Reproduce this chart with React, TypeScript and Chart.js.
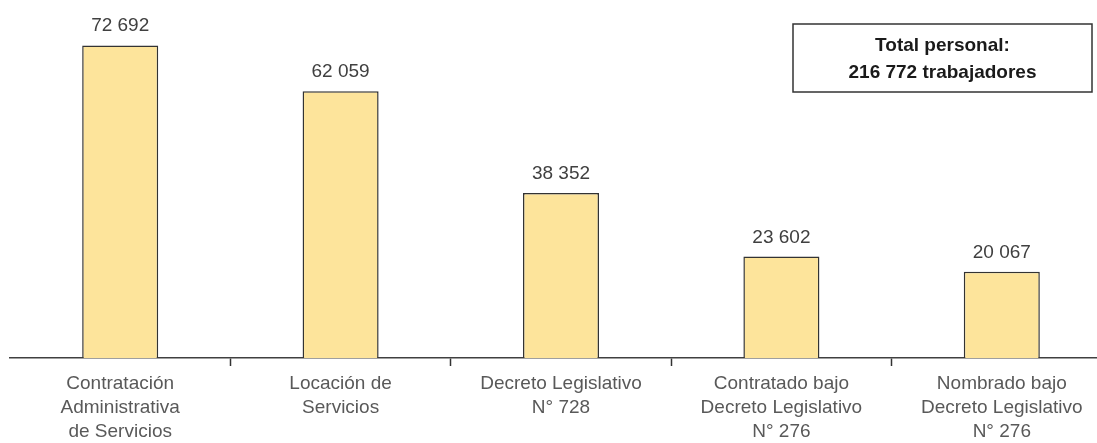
import React, { useEffect, useRef } from "react";
import { Chart, registerables } from "chart.js";

Chart.register(...registerables);

const categories: string[][] = [
  ["Contratación", "Administrativa", "de Servicios"],
  ["Locación de", "Servicios"],
  ["Decreto Legislativo", "N° 728"],
  ["Contratado bajo", "Decreto Legislativo", "N° 276"],
  ["Nombrado bajo", "Decreto Legislativo", "N° 276"],
];
const trabajadores: number[] = [72692, 62059, 38352, 23602, 20067];
const totalLabel = "Total personal:";
const totalValue = 216772;
const totalUnit = "trabajadores";

const fmt = (v: number) => String(v).replace(/\B(?=(\d{3})+(?!\d))/g, " ");

const FONT = "'Liberation Sans', Arial, sans-serif";

const valueLabels = {
  id: "valueLabels",
  afterDatasetsDraw(chart: any) {
    const ctx = chart.ctx;
    const meta = chart.getDatasetMeta(0);
    ctx.save();
    ctx.font = `19px ${FONT}`;
    ctx.fillStyle = "#404040";
    ctx.textAlign = "center";
    ctx.textBaseline = "alphabetic";
    meta.data.forEach((bar: any, i: number) => {
      ctx.fillText(fmt(trabajadores[i]), bar.x, bar.y - 14);
    });
    ctx.restore();
  },
};

const totalBox = {
  id: "totalBox",
  afterDraw(chart: any) {
    const ctx = chart.ctx;
    const x = 793, y = 24, w = 299, h = 68;
    ctx.save();
    ctx.strokeStyle = "#333333";
    ctx.lineWidth = 1.5;
    ctx.strokeRect(x, y, w, h);
    ctx.fillStyle = "#1a1a1a";
    ctx.font = `bold 19px ${FONT}`;
    ctx.textAlign = "center";
    ctx.textBaseline = "middle";
    ctx.fillText(totalLabel, x + w / 2, y + 22);
    ctx.fillText(`${fmt(totalValue)} ${totalUnit}`, x + w / 2, y + 49);
    ctx.restore();
  },
};

export default function App() {
  const ref = useRef<HTMLCanvasElement | null>(null);
  useEffect(() => {
    if (!ref.current) return;
    const chart = new Chart(ref.current, {
      type: "bar",
      data: {
        labels: categories,
        datasets: [
          {
            data: trabajadores,
            backgroundColor: "#FDE49B",
            borderColor: "#333333",
            borderWidth: 1.5,
            categoryPercentage: 1,
            barPercentage: 0.345,
          },
        ],
      },
      options: {
        animation: false,
        responsive: false,
        devicePixelRatio: 1,
        layout: { padding: { left: 10, right: 3, top: 14, bottom: 0 } },
        plugins: { legend: { display: false }, tooltip: { enabled: false } },
        scales: {
          x: {
            grid: {
              display: true,
              drawOnChartArea: false,
              drawTicks: true,
              tickLength: 8,
              tickWidth: 1.5,
              tickColor: (c: any) => (c.index === 0 ? "rgba(0,0,0,0)" : "#333333"),
            },
            border: { display: true, color: "#404040", width: 1.5 },
            ticks: {
              autoSkip: false,
              maxRotation: 0,
              minRotation: 0,
              padding: 6,
              color: "#595959",
              font: { family: FONT, size: 19, lineHeight: 1.25 },
            },
            afterFit: (scale: any) => {
              scale.height = 85;
            },
          },
          y: {
            display: false,
            min: 0,
            max: 80000,
          },
        },
      },
      plugins: [valueLabels, totalBox],
    });
    return () => chart.destroy();
  }, []);
  return (
    <div
      style={{
        position: "fixed",
        left: 0,
        top: 0,
        width: 1097,
        height: 443,
        overflow: "hidden",
        background: "#ffffff",
      }}
    >
      <canvas ref={ref} width={1115} height={443} style={{ display: "block" }} />
    </div>
  );
}
